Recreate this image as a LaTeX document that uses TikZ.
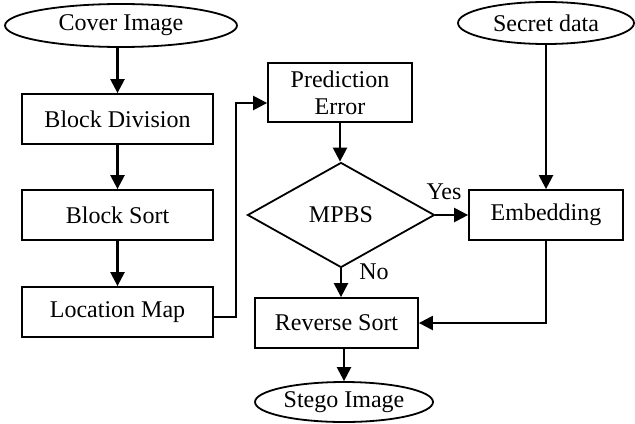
\documentclass[tikz,border=0pt]{standalone}
\usepackage{fontspec}
\setmainfont{Liberation Serif}
\usetikzlibrary{shapes.geometric,arrows.meta}

\begin{document}
\begin{tikzpicture}[x=0.5pt,y=-0.5pt,
  every node/.style={font=\fontsize{12}{13.5}\selectfont, inner sep=0pt},
  procbox/.style={draw, line width=0.9pt, rectangle, minimum height=25pt, align=center},
  terminal/.style={draw, line width=0.9pt, ellipse},
  decision/.style={draw, line width=0.9pt, diamond, minimum width=93.5pt, minimum height=52.5pt},
  arr/.style={line width=1.2pt, -{Triangle[length=7pt,width=7pt]}},
  tag/.style={anchor=center}
]
\useasboundingbox (0,0) rectangle (635,423);

% left column
\node[terminal, minimum width=116pt, minimum height=21.5pt] (cover) at (121,25.5) {Cover Image};
\node[procbox, minimum width=95.5pt] (bdiv) at (117.5,119) {Block Division};
\node[procbox, minimum width=95.5pt] (bsort) at (117.5,215) {Block Sort};
\node[procbox, minimum width=95.5pt] (lmap) at (117.5,312) {Location Map};

% middle column
\node[procbox, minimum width=72pt, minimum height=29.5pt] (pred) at (340,92.5) {Prediction\\Error};
\node[decision] (mpbs) at (341,215) {MPBS};
\node[procbox, minimum width=81.5pt] (rsort) at (336.5,323) {Reverse Sort};
\node[terminal, minimum width=89pt, minimum height=20pt] (stego) at (344,402) {Stego Image};

% right column
\node[terminal, minimum width=88pt, minimum height=21pt] (secret) at (546,23) {Secret data};
\node[procbox, minimum width=77pt] (embed) at (546,215) {Embedding};

% branch labels
\node[tag] (yes) at (444,192) {Yes};
\node[tag] (no) at (374,272) {No};

% connectors
\draw[arr] (bdiv.north |- cover.south) -- (bdiv.north);
\draw[arr] (bdiv) -- (bsort);
\draw[arr] (bsort) -- (lmap);
\draw[arr] ([yshift=-2.5pt]lmap.east) -- ++(11pt,0) |- ([yshift=-5.25pt]pred.west);
\draw[arr] (pred.south) -- (pred.south |- mpbs.north);
\draw[arr] (mpbs.east) -- (embed.west);
\draw[arr] (mpbs.south) -- (mpbs.south |- rsort.north);
\draw[arr] (secret.south) -- (embed.north);
\draw[arr] (embed.south) |- (rsort.east);
\draw[arr] (stego.north |- rsort.south) -- (stego.north);
\end{tikzpicture}
\end{document}
